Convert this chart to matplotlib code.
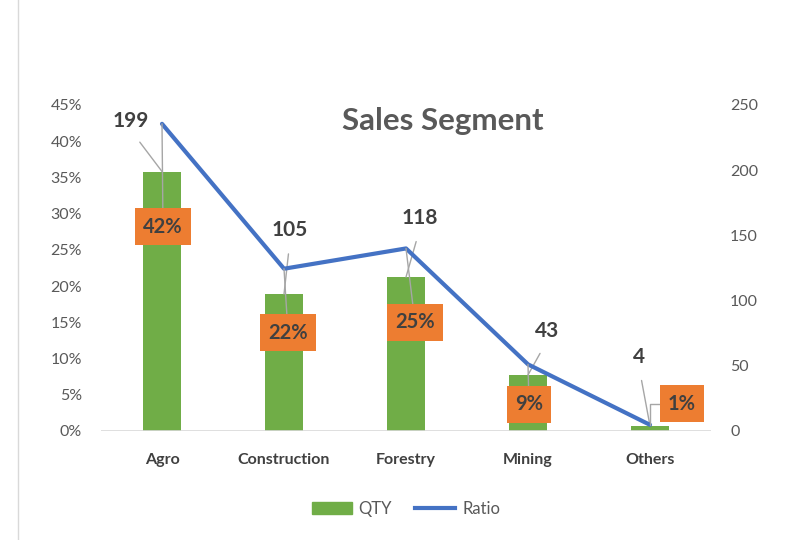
import matplotlib.pyplot as plt
from matplotlib.lines import Line2D
from matplotlib.patches import Patch

categories = ["Agro", "Construction", "Forestry", "Mining", "Others"]
qty = [199, 105, 118, 43, 4]
ratio = [0.424, 0.224, 0.252, 0.092, 0.0085]
ratio_labels = ["42%", "22%", "25%", "9%", "1%"]

# label offsets in pixels (dx, dy)
qty_offsets = [(-31, 51), (6, 64), (14, 59), (19, 44), (-11, 69)]
ratio_offsets = [(1, -103), (4, -64), (9, -74), (1, -40), (32, 21)]

green = "#70AD47"
blue = "#4472C4"
orange = "#ED7D31"
dark = "#404040"
tick_col = "#595959"
leader = "#A6A6A6"
px = 0.72  # points per pixel at dpi 100

plt.rcParams['font.family'] = ['Lato', 'DejaVu Sans']

fig = plt.figure(figsize=(7.86, 5.4), dpi=100)
ax = fig.add_axes([101 / 786, 1 - 431 / 540, 610 / 786, 326 / 540])
ax2 = ax.twinx()
ax.set_zorder(ax2.get_zorder() + 1)
ax.patch.set_visible(False)

x = list(range(len(categories)))
ax2.bar(x, qty, width=0.31, color=green)
ax.plot(x, ratio, color=blue, lw=3, solid_capstyle='round')

ax.set_xlim(-0.5, 4.5)
ax.set_ylim(0, 0.45)
ax2.set_ylim(0, 250)
ax.set_yticks([i * 0.05 for i in range(10)])
ax.set_yticklabels([f"{i * 5}%" for i in range(10)])
ax2.set_yticks(range(0, 251, 50))
ax.set_xticks(x)
ax.set_xticklabels(categories, fontweight='bold', fontsize=12, color=dark)

for a in (ax, ax2):
    for s in a.spines.values():
        s.set_visible(False)
    a.tick_params(length=0, labelsize=11.5, labelcolor=tick_col)
ax.tick_params(axis='y', pad=19 * px)
ax2.tick_params(axis='y', pad=19 * px)
ax.tick_params(axis='x', pad=22 * px, labelcolor=dark)
ax.axhline(0, color="#D9D9D9", lw=1.2, zorder=0)

for i, v in enumerate(qty):
    dx, dy = qty_offsets[i]
    ax2.annotate(str(v), xy=(i, v), xytext=(dx * px, dy * px), textcoords='offset points',
                 ha='center', va='center', fontsize=15, fontweight='bold', color=dark,
                 annotation_clip=False,
                 arrowprops=dict(arrowstyle='-', color=leader, lw=1, relpos=(0.5, 0),
                                 shrinkA=8, shrinkB=0))

for i, r in enumerate(ratio):
    dx, dy = ratio_offsets[i]
    conn = "angle,angleA=0,angleB=90,rad=0" if i == 4 else "arc3"
    ax.annotate(ratio_labels[i], xy=(i, r), xytext=(dx * px, dy * px), textcoords='offset points',
                ha='center', va='center', fontsize=14.5, fontweight='bold', color=dark,
                annotation_clip=False,
                bbox=dict(boxstyle='square,pad=0.42', fc=orange, ec='none'),
                arrowprops=dict(arrowstyle='-', color=leader, lw=1, shrinkA=0, shrinkB=0,
                                connectionstyle=conn))

fig.text(443 / 786, 1 - 121 / 540, "Sales Segment", ha='center', va='center',
         fontsize=22.5, fontweight='bold', color=tick_col)

handles = [Patch(color=green), Line2D([0], [0], color=blue, lw=3)]
fig.legend(handles, ["QTY", "Ratio"], loc='center', bbox_to_anchor=(406 / 786, 1 - 509 / 540),
           ncol=2, frameon=False, fontsize=12, labelcolor=tick_col, handlelength=2.4,
           handletextpad=0.4, columnspacing=1.4)

fig.add_artist(Line2D([18 / 786, 18 / 786], [0, 1], color="#D9D9D9", lw=1))

fig.savefig("out.png", dpi=100)
